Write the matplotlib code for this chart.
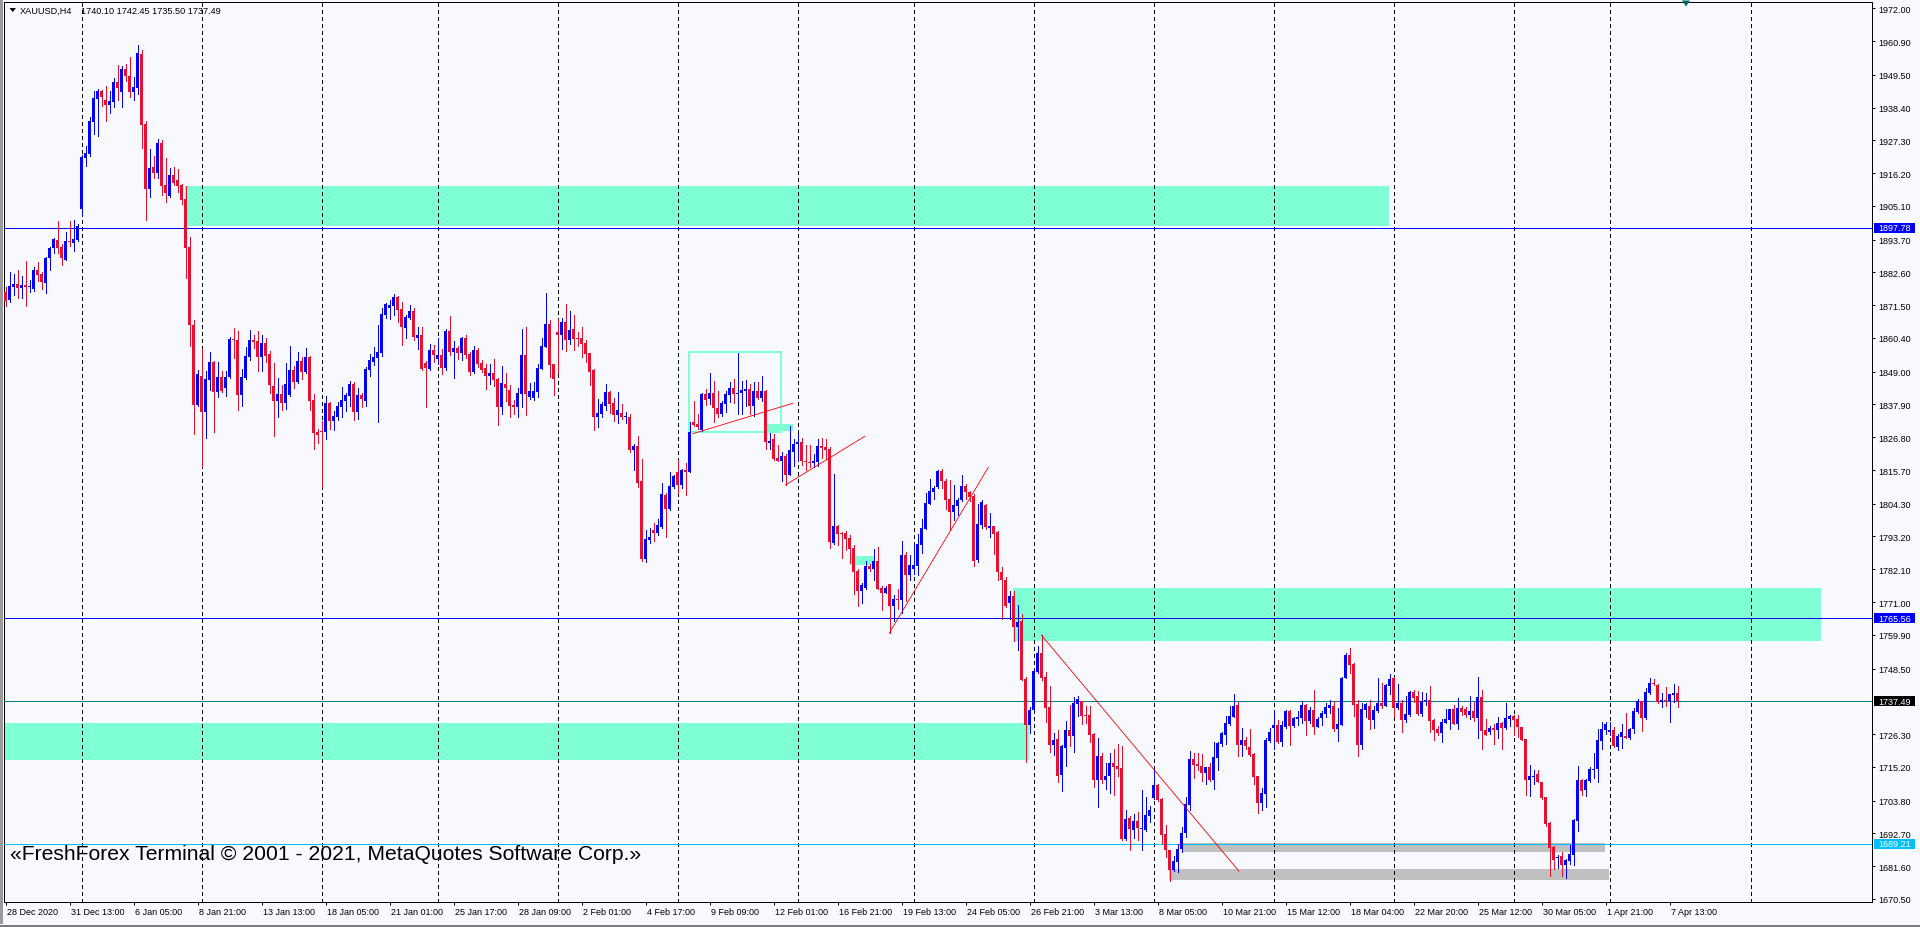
import matplotlib
matplotlib.use("Agg")
import matplotlib.pyplot as plt
import matplotlib.transforms as mtransforms
from matplotlib.patches import Rectangle, Polygon
import numpy as np

# ---------------- data (XAUUSD, H4) ----------------
opens = [
    1875.9, 1873.4, 1877.5, 1878.6, 1877.4, 1878.2, 1877.8, 1877.1, 1883.3, 1881.9,
    1879.0, 1887.3, 1890.7, 1893.5, 1891.1, 1886.9, 1893.2, 1892.7, 1893.7, 1904.1,
    1921.4, 1922.7, 1933.5, 1941.4, 1944.0, 1941.0, 1939.4, 1940.4, 1947.1, 1943.8,
    1951.5, 1949.1, 1943.8, 1945.0, 1956.5, 1932.7, 1910.9, 1918.3, 1916.1, 1926.4,
    1912.2, 1908.6, 1915.6, 1913.9, 1912.2, 1907.4, 1891.1, 1864.8, 1837.8, 1847.5,
    1835.5, 1846.3, 1852.3, 1842.0, 1847.2, 1843.6, 1847.2, 1860.1, 1859.7,
    1841.2, 1846.9, 1854.0, 1859.7, 1859.4, 1854.0, 1858.7, 1855.0, 1844.1, 1839.0,
    1841.4, 1838.5, 1841.2, 1849.6, 1845.5, 1852.6, 1848.9, 1854.0, 1839.4, 1828.6,
    1828.8, 1828.7, 1838.4, 1832.4, 1833.8, 1837.0, 1839.0, 1840.8, 1844.8, 1835.5,
    1841.1, 1839.2, 1849.6, 1852.3, 1853.6, 1855.3, 1868.2, 1870.5, 1871.2, 1874.3,
    1870.2, 1863.8, 1867.2, 1869.5, 1860.4, 1861.4, 1851.9, 1849.9, 1856.3, 1853.3,
    1854.6, 1850.2, 1862.8, 1855.7, 1857.0, 1855.3, 1860.4, 1855.0, 1848.9,
    1856.3, 1851.9, 1850.2, 1847.5, 1848.6, 1846.5, 1837.0, 1844.8, 1842.8, 1837.7,
    1837.0, 1841.4, 1854.6, 1840.4, 1840.1, 1842.1, 1849.9, 1857.4, 1865.1, 1851.6,
    1862.4, 1861.4, 1865.8, 1859.7, 1863.4, 1860.4, 1860.4, 1858.7, 1855.3, 1849.6,
    1833.6, 1834.7, 1837.4, 1842.1, 1838.4, 1834.3, 1835.0, 1833.6, 1833.6, 1822.5,
    1823.9, 1812.0, 1785.7, 1792.0, 1795.4, 1794.4, 1796.4, 1807.2, 1802.5, 1810.0,
    1815.0, 1810.6, 1815.7, 1815.0, 1832.0, 1831.3, 1829.3, 1841.4, 1839.8,
    1841.8, 1836.7, 1834.7, 1838.1, 1841.1, 1843.5, 1841.4, 1841.8, 1842.5, 1843.1,
    1837.4, 1842.5, 1840.1, 1842.5, 1824.9, 1826.2, 1819.8, 1818.8, 1820.4, 1814.0,
    1821.8, 1824.5, 1825.2, 1818.8, 1818.4, 1818.1, 1818.4, 1823.8, 1823.5, 1822.8,
    1791.0, 1796.8, 1794.4, 1794.4, 1792.7, 1789.3, 1781.5, 1774.7, 1775.8, 1783.2,
    1782.2, 1784.9, 1775.8, 1774.1, 1777.1, 1769.6, 1772.0, 1771.8, 1786.9, 1780.2,
    1782.2, 1783.2, 1790.3, 1795.7, 1804.2, 1808.3, 1810.0, 1815.4, 1812.0,
    1805.9, 1801.4, 1803.6, 1805.7, 1810.4, 1808.2, 1807.0, 1785.4, 1797.2, 1803.9,
    1796.2, 1796.6, 1794.8, 1781.3, 1778.5, 1770.7, 1773.2, 1762.7, 1764.7, 1745.0,
    1729.5, 1734.6, 1747.2, 1753.8, 1745.5, 1735.5, 1722.7, 1724.6, 1712.6, 1721.7,
    1727.7, 1725.7, 1736.5, 1737.4, 1732.9, 1732.9, 1726.4, 1710.9, 1719.0, 1710.9,
    1712.0, 1716.5, 1715.4, 1714.8, 1690.8, 1697.8, 1694.0, 1696.9, 1694.2, 1694.0,
    1698.7, 1704.7, 1709.1, 1704.3, 1692.5, 1686.9, 1680.3, 1682.9, 1687.4,
    1692.8, 1702.4, 1717.9, 1716.2, 1715.5, 1713.1, 1715.2, 1710.8, 1718.2, 1723.0,
    1726.0, 1729.7, 1732.1, 1736.2, 1722.6, 1724.3, 1721.9, 1719.6, 1712.1, 1703.1,
    1706.1, 1724.0, 1728.4, 1729.4, 1723.6, 1728.7, 1734.1, 1729.1, 1731.4, 1731.8,
    1736.2, 1730.8, 1734.5, 1728.7, 1731.8, 1733.1, 1735.1, 1735.8, 1728.0, 1729.4,
    1745.3, 1753.1, 1750.0, 1736.5, 1722.6, 1734.5, 1735.8, 1731.1, 1734.1, 1736.8,
    1735.8, 1742.6, 1745.3, 1735.1, 1736.8, 1731.1, 1732.8, 1740.6, 1739.2,
    1733.1, 1737.4, 1737.8, 1731.1, 1728.0, 1726.7, 1730.1, 1731.1, 1734.8, 1729.7,
    1735.1, 1734.8, 1732.8, 1734.1, 1731.8, 1738.9, 1727.7, 1727.0, 1728.4, 1727.7,
    1730.1, 1728.4, 1731.4, 1732.3, 1731.4, 1728.7, 1724.6, 1710.8, 1711.8, 1712.8,
    1710.2, 1705.0, 1696.3, 1688.1, 1684.2, 1685.1, 1682.1, 1683.5, 1685.5, 1697.0,
    1710.8, 1707.4, 1710.5, 1714.3, 1714.6, 1724.1, 1727.7, 1726.9, 1727.7, 1721.9,
    1725.3, 1725.7, 1725.0, 1728.0, 1733.9, 1737.5, 1731.8, 1740.2, 1743.6, 1742.9,
    1737.1, 1737.8, 1737.5, 1739.5, 1740.10,
]
highs = [
    1877.5, 1882.6, 1882.1, 1883.4, 1881.4, 1886.3, 1880.1, 1884.4, 1886.0, 1882.6,
    1887.8, 1891.1, 1894.2, 1900.0, 1892.2, 1896.3, 1900.0, 1900.2, 1899.0, 1922.2,
    1925.5, 1935.1, 1944.1, 1944.7, 1944.3, 1945.8, 1944.1, 1948.4, 1952.8, 1952.4,
    1953.1, 1955.5, 1948.6, 1959.7, 1957.8, 1933.9, 1924.4, 1922.1, 1927.8, 1927.4,
    1921.2, 1917.9, 1918.3, 1917.6, 1912.4, 1911.8, 1894.5, 1866.5, 1849.7, 1856.7,
    1849.3, 1855.8, 1852.7, 1852.2, 1849.2, 1849.3, 1860.8, 1863.8, 1862.8,
    1849.9, 1857.4, 1863.1, 1861.4, 1862.8, 1861.4, 1860.4, 1856.0, 1851.9, 1846.9,
    1844.5, 1851.9, 1857.7, 1850.9, 1855.7, 1854.0, 1857.0, 1854.3, 1841.4, 1829.6,
    1832.3, 1840.8, 1838.7, 1835.8, 1838.7, 1843.8, 1841.8, 1845.8, 1845.5, 1843.5,
    1841.8, 1850.6, 1855.0, 1857.4, 1864.8, 1870.5, 1872.2, 1873.3, 1875.3, 1874.6,
    1872.6, 1868.2, 1871.6, 1870.5, 1864.1, 1864.1, 1852.6, 1858.4, 1858.0, 1860.4,
    1856.7, 1863.4, 1867.8, 1859.4, 1857.7, 1860.7, 1861.4, 1855.7, 1857.7,
    1857.0, 1852.9, 1851.6, 1851.6, 1853.3, 1846.9, 1850.9, 1848.6, 1844.5, 1839.4,
    1843.5, 1863.4, 1864.1, 1845.2, 1845.5, 1851.6, 1860.4, 1875.6, 1866.5, 1851.6,
    1866.8, 1867.2, 1871.9, 1869.5, 1868.2, 1862.4, 1864.1, 1859.7, 1855.3, 1849.9,
    1839.8, 1838.7, 1844.8, 1842.5, 1840.1, 1842.1, 1838.1, 1835.3, 1834.7, 1824.5,
    1827.2, 1819.5, 1795.4, 1796.1, 1797.8, 1799.1, 1811.3, 1807.9, 1815.0, 1814.0,
    1819.1, 1816.1, 1818.1, 1832.0, 1839.1, 1834.7, 1841.8, 1843.1, 1848.6,
    1845.8, 1842.5, 1839.1, 1842.5, 1845.5, 1846.5, 1855.3, 1845.8, 1846.2, 1844.8,
    1845.5, 1845.5, 1847.5, 1842.8, 1828.2, 1827.9, 1824.2, 1821.8, 1821.1, 1830.6,
    1826.2, 1827.9, 1826.6, 1824.2, 1824.2, 1821.1, 1826.2, 1826.6, 1826.2, 1823.5,
    1814.3, 1797.1, 1794.7, 1795.1, 1793.7, 1790.3, 1782.2, 1777.5, 1784.9, 1783.9,
    1788.9, 1789.6, 1776.4, 1776.4, 1777.1, 1773.4, 1775.4, 1791.7, 1788.0, 1786.9,
    1790.7, 1794.1, 1799.1, 1807.9, 1812.7, 1810.3, 1815.7, 1816.1, 1812.7,
    1812.4, 1810.6, 1806.2, 1814.0, 1811.0, 1808.7, 1807.6, 1804.2, 1805.7, 1804.2,
    1801.2, 1796.9, 1795.2, 1782.8, 1779.4, 1774.9, 1774.9, 1770.0, 1766.9, 1745.5,
    1735.4, 1748.3, 1756.0, 1759.9, 1747.2, 1742.7, 1726.7, 1727.8, 1722.6, 1730.9,
    1736.2, 1738.8, 1739.1, 1737.6, 1735.7, 1735.9, 1726.7, 1725.0, 1719.9, 1716.5,
    1719.9, 1721.3, 1723.0, 1722.4, 1700.7, 1698.7, 1699.3, 1700.0, 1707.4, 1705.1,
    1701.9, 1714.5, 1709.4, 1704.6, 1695.5, 1686.9, 1685.2, 1689.1, 1694.8,
    1704.9, 1720.6, 1719.9, 1719.9, 1719.6, 1715.2, 1716.5, 1723.6, 1723.6, 1727.0,
    1732.4, 1735.8, 1739.9, 1737.2, 1728.4, 1725.3, 1728.0, 1719.9, 1712.1, 1708.1,
    1725.0, 1728.4, 1734.5, 1731.1, 1730.7, 1734.5, 1734.5, 1732.1, 1734.1, 1737.5,
    1736.5, 1735.5, 1741.2, 1732.1, 1734.1, 1736.8, 1737.9, 1737.5, 1735.1, 1745.5,
    1753.8, 1755.5, 1750.4, 1737.9, 1736.8, 1736.8, 1737.9, 1735.8, 1745.3, 1743.6,
    1743.3, 1746.7, 1745.6, 1743.3, 1737.9, 1739.2, 1740.9, 1741.2, 1740.9,
    1740.4, 1740.2, 1742.7, 1731.4, 1728.9, 1731.4, 1734.8, 1734.8, 1736.2, 1738.5,
    1735.8, 1735.5, 1739.2, 1737.2, 1745.6, 1741.2, 1731.4, 1729.0, 1729.7, 1732.1,
    1730.4, 1736.8, 1732.8, 1732.8, 1732.8, 1728.7, 1724.6, 1715.8, 1714.2, 1714.3,
    1710.2, 1705.0, 1696.5, 1688.5, 1685.4, 1686.3, 1684.0, 1688.9, 1697.6, 1715.6,
    1711.1, 1711.1, 1715.3, 1719.9, 1728.0, 1730.3, 1730.3, 1730.3, 1728.7, 1726.3,
    1729.7, 1733.4, 1728.4, 1735.1, 1738.2, 1737.5, 1741.9, 1745.3, 1745.0, 1743.3,
    1740.1, 1742.2, 1739.9, 1743.4, 1742.45,
]
lows = [
    1871.1, 1872.7, 1875.0, 1874.0, 1874.0, 1871.3, 1876.1, 1876.2, 1879.6, 1877.1,
    1875.7, 1883.5, 1889.3, 1889.3, 1885.2, 1886.9, 1891.5, 1889.8, 1893.1, 1902.1,
    1918.7, 1922.0, 1929.6, 1928.9, 1939.0, 1934.0, 1936.6, 1938.6, 1941.1, 1938.6,
    1947.3, 1942.0, 1941.1, 1943.0, 1924.7, 1900.5, 1908.2, 1914.7, 1914.7, 1908.9,
    1906.5, 1908.2, 1912.3, 1909.9, 1905.8, 1880.8, 1857.6, 1828.0, 1837.5, 1817.0,
    1826.7, 1842.8, 1828.7, 1840.4, 1842.2, 1840.9, 1846.7, 1853.6, 1836.1,
    1837.2, 1846.5, 1852.9, 1857.0, 1849.2, 1849.2, 1852.3, 1841.8, 1827.3, 1833.8,
    1836.1, 1836.5, 1840.8, 1843.6, 1845.2, 1846.5, 1848.5, 1836.1, 1822.8, 1825.0,
    1810.1, 1826.3, 1829.7, 1829.4, 1832.7, 1833.8, 1835.8, 1837.4, 1832.7, 1833.1,
    1837.0, 1837.2, 1847.5, 1851.2, 1832.1, 1854.3, 1867.2, 1866.8, 1868.2, 1865.8,
    1858.0, 1860.4, 1866.8, 1859.7, 1856.7, 1849.6, 1837.0, 1849.6, 1852.3, 1851.6,
    1848.2, 1849.6, 1854.6, 1846.9, 1853.3, 1852.9, 1853.6, 1847.9, 1848.5,
    1850.6, 1848.9, 1843.1, 1844.8, 1844.1, 1830.9, 1834.7, 1839.1, 1833.6, 1834.7,
    1833.6, 1837.0, 1834.3, 1839.7, 1839.4, 1840.4, 1849.9, 1857.4, 1847.2, 1841.1,
    1848.6, 1856.7, 1856.0, 1858.4, 1856.3, 1857.7, 1854.0, 1852.3, 1844.5, 1829.3,
    1830.3, 1833.6, 1836.0, 1835.0, 1832.3, 1831.6, 1833.0, 1831.6, 1821.8, 1815.7,
    1810.1, 1785.0, 1784.7, 1791.0, 1791.7, 1793.7, 1796.1, 1793.0, 1802.2, 1809.6,
    1807.9, 1809.6, 1807.3, 1815.0, 1830.6, 1829.6, 1828.9, 1837.7, 1838.1,
    1832.0, 1833.7, 1834.0, 1835.3, 1838.7, 1838.4, 1834.7, 1834.7, 1837.4, 1834.7,
    1834.0, 1839.8, 1839.1, 1822.8, 1822.8, 1819.1, 1818.8, 1812.0, 1810.6, 1814.0,
    1817.1, 1818.8, 1817.4, 1815.7, 1816.6, 1816.7, 1817.1, 1819.8, 1819.4, 1789.3,
    1790.6, 1790.3, 1785.9, 1788.6, 1784.2, 1773.7, 1769.7, 1770.7, 1775.4, 1781.5,
    1778.5, 1775.4, 1768.3, 1774.1, 1760.5, 1764.6, 1768.7, 1767.3, 1771.4, 1778.5,
    1780.5, 1780.2, 1787.6, 1795.7, 1804.2, 1805.9, 1809.6, 1809.6, 1802.5,
    1795.4, 1798.8, 1800.3, 1805.2, 1805.9, 1805.3, 1783.3, 1784.5, 1796.2, 1795.7,
    1793.1, 1787.1, 1778.3, 1765.3, 1769.2, 1765.3, 1757.9, 1754.9, 1744.5, 1717.0,
    1726.6, 1734.2, 1747.0, 1744.7, 1730.3, 1720.4, 1719.3, 1710.2, 1706.9, 1715.4,
    1722.2, 1720.1, 1732.5, 1729.7, 1729.9, 1723.7, 1708.3, 1701.7, 1709.8, 1707.7,
    1706.4, 1705.8, 1712.0, 1690.6, 1690.6, 1687.2, 1691.0, 1690.6, 1686.9, 1693.6,
    1696.4, 1704.3, 1703.8, 1689.6, 1684.6, 1676.7, 1679.9, 1679.7, 1686.3,
    1691.5, 1700.5, 1711.4, 1714.2, 1710.4, 1709.4, 1710.4, 1707.7, 1714.2, 1722.3,
    1723.0, 1729.4, 1732.1, 1718.9, 1718.9, 1721.3, 1718.9, 1709.4, 1699.5, 1700.5,
    1701.7, 1723.6, 1721.3, 1723.3, 1722.3, 1728.4, 1722.6, 1728.7, 1729.4, 1730.1,
    1726.0, 1730.1, 1726.3, 1728.7, 1729.4, 1732.1, 1733.5, 1727.4, 1724.0, 1729.4,
    1745.3, 1747.0, 1732.4, 1718.9, 1721.3, 1732.1, 1728.0, 1728.4, 1733.8, 1735.1,
    1735.8, 1739.9, 1732.1, 1734.8, 1727.0, 1730.4, 1732.4, 1737.2, 1732.8,
    1732.5, 1736.2, 1727.1, 1724.3, 1726.0, 1723.6, 1730.1, 1728.0, 1729.7, 1728.0,
    1732.8, 1732.1, 1731.4, 1730.7, 1724.9, 1721.3, 1726.0, 1726.3, 1723.0, 1724.9,
    1721.3, 1728.0, 1728.9, 1726.0, 1725.2, 1724.3, 1705.7, 1705.3, 1709.4, 1710.0,
    1704.3, 1695.2, 1678.4, 1680.6, 1681.1, 1678.4, 1677.7, 1682.4, 1682.1, 1693.6,
    1705.7, 1705.5, 1710.2, 1711.5, 1710.2, 1721.3, 1726.3, 1726.1, 1721.9, 1720.9,
    1721.6, 1725.0, 1724.8, 1726.7, 1733.4, 1727.4, 1731.4, 1739.9, 1742.9, 1736.8,
    1735.5, 1735.9, 1730.3, 1737.1, 1735.50,
]
closes = [
    1873.0, 1877.9, 1878.6, 1877.4, 1878.2, 1877.8, 1878.0, 1883.4, 1881.7, 1879.2,
    1887.5, 1890.9, 1893.9, 1890.9, 1887.3, 1893.2, 1893.0, 1893.9, 1898.2, 1921.7,
    1923.0, 1933.9, 1941.6, 1944.0, 1942.0, 1939.4, 1940.6, 1947.1, 1945.1, 1951.5,
    1949.2, 1943.8, 1945.4, 1956.9, 1932.6, 1910.9, 1917.9, 1916.1, 1926.4, 1912.0,
    1909.6, 1915.6, 1913.0, 1912.0, 1907.1, 1891.0, 1864.9, 1837.8, 1848.2, 1835.5,
    1846.5, 1852.3, 1842.1, 1847.2, 1842.6, 1847.2, 1860.1, 1859.7, 1841.2,
    1847.2, 1854.3, 1859.7, 1859.0, 1854.0, 1858.7, 1854.3, 1844.5, 1839.0, 1841.4,
    1838.5, 1844.8, 1849.6, 1845.5, 1852.6, 1848.9, 1854.0, 1839.2, 1828.3, 1827.7,
    1828.6, 1838.4, 1832.4, 1834.0, 1837.4, 1839.4, 1841.1, 1844.8, 1835.5, 1841.1,
    1839.7, 1849.9, 1852.9, 1854.0, 1855.7, 1868.5, 1871.9, 1871.6, 1874.3, 1869.9,
    1864.1, 1867.5, 1869.5, 1860.7, 1861.4, 1849.9, 1850.2, 1856.3, 1854.6, 1854.6,
    1850.2, 1862.8, 1855.7, 1857.0, 1855.3, 1860.4, 1854.6, 1848.9, 1856.3,
    1851.6, 1849.6, 1847.5, 1848.6, 1846.2, 1837.0, 1845.2, 1843.5, 1837.4, 1837.0,
    1841.8, 1854.6, 1841.4, 1842.5, 1842.5, 1850.2, 1857.7, 1865.1, 1851.3, 1846.5,
    1861.4, 1865.8, 1859.7, 1863.1, 1860.1, 1860.1, 1858.4, 1855.0, 1848.9, 1833.6,
    1835.0, 1838.1, 1842.1, 1838.1, 1834.3, 1836.0, 1833.6, 1834.0, 1822.5, 1823.9,
    1811.4, 1785.7, 1792.4, 1793.0, 1794.4, 1797.1, 1807.6, 1802.5, 1810.3, 1813.7,
    1810.6, 1815.7, 1815.0, 1828.6, 1830.9, 1830.3, 1841.4, 1839.4, 1841.8,
    1836.7, 1834.7, 1838.4, 1841.4, 1843.5, 1841.4, 1841.8, 1842.8, 1843.1, 1837.4,
    1842.5, 1840.1, 1842.5, 1825.2, 1825.5, 1819.4, 1818.8, 1820.4, 1814.0, 1822.5,
    1824.5, 1825.2, 1818.8, 1818.4, 1818.2, 1818.8, 1823.8, 1823.2, 1822.5, 1791.3,
    1796.8, 1794.1, 1794.1, 1792.4, 1788.9, 1781.2, 1774.7, 1776.8, 1783.2, 1782.2,
    1784.9, 1775.4, 1774.1, 1775.8, 1769.6, 1772.0, 1771.8, 1786.9, 1780.2, 1783.6,
    1783.6, 1790.7, 1796.1, 1804.5, 1808.6, 1809.6, 1815.4, 1812.0, 1805.5,
    1801.4, 1803.9, 1805.7, 1810.4, 1808.2, 1806.5, 1785.0, 1797.4, 1805.0, 1796.3,
    1796.6, 1794.2, 1781.3, 1778.3, 1769.8, 1773.2, 1762.7, 1764.4, 1744.7, 1729.5,
    1734.6, 1747.7, 1753.8, 1745.3, 1735.3, 1722.7, 1724.3, 1712.2, 1722.2, 1727.7,
    1725.5, 1736.9, 1738.2, 1732.5, 1732.5, 1726.1, 1710.9, 1719.0, 1710.9, 1712.0,
    1716.5, 1715.1, 1714.6, 1690.8, 1697.6, 1694.2, 1696.8, 1694.5, 1694.6, 1698.9,
    1700.7, 1709.1, 1704.1, 1692.1, 1686.9, 1680.3, 1683.5, 1687.4, 1692.8,
    1702.6, 1717.9, 1715.8, 1715.5, 1713.1, 1715.2, 1710.8, 1718.6, 1723.3, 1726.7,
    1730.1, 1732.4, 1735.8, 1722.6, 1724.3, 1722.3, 1719.2, 1711.8, 1703.1, 1706.4,
    1724.3, 1727.0, 1729.4, 1723.6, 1729.4, 1734.1, 1729.1, 1731.8, 1732.1, 1736.2,
    1730.8, 1734.5, 1728.7, 1731.4, 1733.5, 1735.5, 1736.2, 1728.0, 1729.7, 1745.3,
    1753.1, 1749.7, 1736.2, 1722.6, 1734.8, 1736.5, 1731.1, 1734.5, 1736.8, 1735.8,
    1742.9, 1745.0, 1735.1, 1736.8, 1731.1, 1733.1, 1740.6, 1738.5, 1733.1,
    1737.5, 1737.8, 1730.7, 1727.7, 1726.7, 1730.3, 1731.4, 1734.8, 1729.7, 1735.1,
    1733.8, 1732.8, 1734.1, 1731.8, 1738.9, 1727.5, 1726.0, 1728.4, 1727.7, 1730.1,
    1728.4, 1731.8, 1732.3, 1731.1, 1728.6, 1724.3, 1710.8, 1712.0, 1712.1, 1710.2,
    1704.7, 1695.9, 1687.9, 1683.8, 1684.8, 1682.1, 1683.8, 1685.7, 1697.3, 1710.8,
    1707.1, 1710.8, 1714.6, 1714.6, 1724.4, 1728.0, 1729.7, 1727.8, 1722.2, 1725.7,
    1727.0, 1725.0, 1728.1, 1734.2, 1737.5, 1731.8, 1740.5, 1743.6, 1743.3, 1737.1,
    1737.8, 1737.5, 1739.9, 1740.2, 1737.49,
]

date_labels = ["28 Dec 2020", "31 Dec 13:00", "6 Jan 05:00", "8 Jan 21:00", "13 Jan 13:00",
               "18 Jan 05:00", "21 Jan 01:00", "25 Jan 17:00", "28 Jan 09:00", "2 Feb 01:00",
               "4 Feb 17:00", "9 Feb 09:00", "12 Feb 01:00", "16 Feb 21:00", "19 Feb 13:00",
               "24 Feb 05:00", "26 Feb 21:00", "3 Mar 13:00", "8 Mar 05:00", "10 Mar 21:00",
               "15 Mar 12:00", "18 Mar 04:00", "22 Mar 20:00", "25 Mar 12:00", "30 Mar 05:00",
               "1 Apr 21:00", "7 Apr 13:00"]
date_label_bars = [16 * k for k in range(len(date_labels))]

price_ticks = [1972.00, 1960.90, 1949.50, 1938.40, 1927.30, 1916.20, 1905.10, 1893.70,
               1882.60, 1871.50, 1860.40, 1849.00, 1837.90, 1826.80, 1815.70, 1804.30,
               1793.20, 1782.10, 1771.00, 1759.90, 1748.50, 1726.30, 1715.20, 1703.80,
               1692.70, 1681.60, 1670.50]

grid_bars = [19, 49, 79, 108, 138, 168, 198, 227, 257, 287, 317, 347, 377, 401, 436.4]

# horizontal levels: price, colour, label background
levels = [(1897.78, "#0000FF", "#0000FF"),
          (1765.56, "#0000FF", "#0000FF"),
          (1737.49, "#008080", "#000000"),
          (1689.21, "#00BFFF", "#00BFFF")]

# filled zones: bar_from, bar_to, price_low, price_high
green_zones = [(44.9, 345.7, 1898.3, 1911.85),
               (251.9, 453.8, 1757.9, 1775.75),
               (-5.0, 255.7, 1717.65, 1730.06),
               (190.1, 196.8, 1828.8, 1831.3),
               (211.0, 217.0, 1783.65, 1786.6)]
gray_zones = [(294.3, 399.75, 1686.5, 1689.4),
              (290.9, 400.75, 1677.0, 1680.6)]
box_outline = (170.8, 193.8, 1828.7, 1855.6)

# trend lines: (bar1, price1, bar2, price2)
trend_lines = [(171.8, 1828.0, 196.8, 1838.3),
               (194.9, 1810.6, 214.75, 1827.1),
               (220.9, 1760.5, 245.65, 1816.6),
               (258.9, 1759.85, 308.3, 1679.9)]

title_symbol = "XAUUSD,H4"
title_ohlc = "1740.10 1742.45 1735.50 1737.49"
copyright_text = "«FreshForex Terminal © 2001 - 2021, MetaQuotes Software Corp.»"

# ---------------- styling ----------------
BG = "#F8F8FF"
BULL = "#0000FF"
BEAR = "#E8102E"
AQUA = "#7FFFD4"
SILVER = "#C0C0C0"
FONT = "Liberation Sans"
PX = 0.72  # one pixel in points at 100 dpi

W, H = 1920, 928
fig = plt.figure(figsize=(19.2, 9.28), dpi=100, facecolor=BG)


def fx(px):
    return px / W


def fy(py):
    return 1 - py / H


ax_l, ax_r, ax_t, ax_b = 4.3, 1872.3, 3.0, 903.3
ax = fig.add_axes([fx(ax_l), fy(ax_b), (ax_r - ax_l) / W, (ax_b - ax_t) / H])
ax.set_facecolor(BG)
ax.set_xlim(-0.35, 466.65)
ax.set_ylim(1669.36, 1974.13)

o = np.array(opens)
h = np.array(highs)
l = np.array(lows)
c = np.array(closes)
x = np.arange(len(c))
cols = np.where(c >= o, BULL, BEAR)

# zones
for x0, x1, p0, p1 in green_zones:
    ax.add_patch(Rectangle((x0, p0), x1 - x0, p1 - p0, fc=AQUA, ec="none", zorder=1))
for x0, x1, p0, p1 in gray_zones:
    ax.add_patch(Rectangle((x0, p0), x1 - x0, p1 - p0, fc=SILVER, ec="none", zorder=1))
bx0, bx1, bp0, bp1 = box_outline
ax.add_patch(Rectangle((bx0, bp0), bx1 - bx0, bp1 - bp0, fill=False, ec=AQUA,
                       lw=2 * PX, zorder=2))

# grid
ax.vlines(grid_bars, 1669.36, 1974.13, colors="black", linestyles=(0, (3, 3)),
          lw=PX, zorder=2, antialiased=False)

# horizontal levels
for p, lc, _ in levels:
    ax.axhline(p, color=lc, lw=PX, zorder=3, antialiased=False)

# candles
ax.vlines(x, l, h, colors=cols, lw=PX, zorder=4, antialiased=False)
body_bottom = np.minimum(o, c)
body_h = np.maximum(np.abs(c - o), 0.34)
ax.bar(x, body_h, bottom=body_bottom, width=0.75, color=cols, linewidth=0,
       zorder=5, antialiased=False)

# trend lines
for b1, p1, b2, p2 in trend_lines:
    ax.plot([b1, b2], [p1, p2], color="#FF0000", lw=0.6, zorder=6, antialiased=True)

# axes styling
for sp in ax.spines.values():
    sp.set_color("black")
    sp.set_linewidth(PX)
ax.yaxis.tick_right()
ax.set_yticks(price_ticks)
ax.set_yticklabels([f"{p:.2f}" for p in price_ticks], fontsize=6.5, family=FONT)
ax.tick_params(axis="y", direction="out", length=1.8, width=PX, pad=2.5, colors="black")
ax.set_xticks(date_label_bars)
ax.set_xticklabels([])
ax.tick_params(axis="x", direction="out", length=2.5, width=PX, colors="black")

date_trans = mtransforms.offset_copy(ax.get_xaxis_transform(), fig=fig, x=1.5, y=-5,
                                     units="dots")
for b, lab in zip(date_label_bars, date_labels):
    ax.text(b, 0, lab, transform=date_trans, ha="left", va="top", fontsize=6.5,
            family=FONT, color="black", clip_on=False)

# highlighted price labels on the axis
for p, _, bg in levels:
    yd = ax.transData.transform((0, p))[1]
    fig.patches.append(Rectangle((fx(1874), (yd - 5) / H), 41 / W, 10 / H, fc=bg,
                                 ec="none", transform=fig.transFigure, zorder=5))
    fig.text(fx(1878), yd / H, f"{p:.2f}", color="white", fontsize=6.5, family=FONT,
             va="center", ha="left", zorder=6)

# window frame bits
fig.patches.append(Rectangle((0, fy(925)), fx(3), 925 / H, fc="#9A9A9A", ec="none",
                             transform=fig.transFigure, zorder=0))
fig.patches.append(Rectangle((0, 0), 1, 2 / H, fc="#7A7A7A", ec="none",
                             transform=fig.transFigure, zorder=0))

# title
fig.patches.append(Polygon([(fx(9.5), fy(9)), (fx(16), fy(9)), (fx(12.75), fy(13))],
                           closed=True, fc="black", ec="none", transform=fig.transFigure,
                           zorder=6))
fig.text(fx(20), fy(11), title_symbol, fontsize=6.6, family=FONT, va="center", ha="left",
         color="black", zorder=6)
fig.text(fx(81), fy(11), title_ohlc, fontsize=6.6, family=FONT, va="center", ha="left",
         color="black", zorder=6)

# chart shift marker
fig.patches.append(Polygon([(fx(1682), fy(1.5)), (fx(1690), fy(1.5)), (fx(1686), fy(7.5))],
                           closed=True, fc="#006A6A", ec="none", transform=fig.transFigure,
                           zorder=6))

# copyright
fig.text(fx(10), fy(855), copyright_text, fontsize=15.2, family=FONT, va="center",
         ha="left", color="black", zorder=7)

fig.savefig("out.png", dpi=100, facecolor=BG)
